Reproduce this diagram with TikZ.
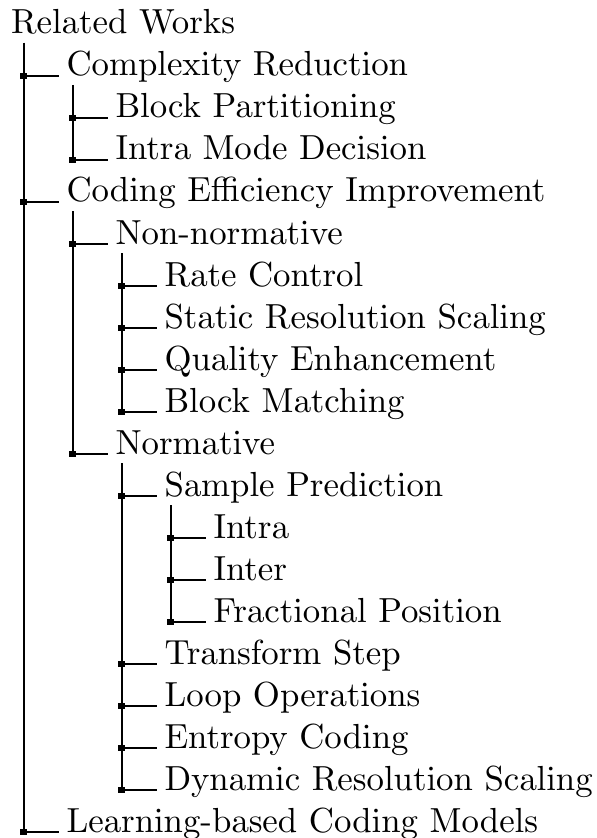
\documentclass[tikz,border=0pt]{standalone}
\font\treefont=cmr10 at 13.6pt
\begin{document}
\begin{tikzpicture}[x=0.390625pt,y=-0.390625pt,
  item/.style={anchor=base west,inner sep=0pt,font=\treefont},
  branch/.style={line width=0.75pt},
  knot/.style={fill=black,minimum size=2.7pt,inner sep=0pt,draw=none,rectangle}]
\useasboundingbox (0,0) rectangle (597,838);
% rows are 42px apart, the root baseline at y=34
\node[item] (r0)  at (10.5, 34)  {Related Works};
\node[item] (r1)  at (66, 76)    {Complexity Reduction};
\node[item] (r2)  at (115, 118)  {Block Partitioning};
\node[item] (r3)  at (115, 160)  {Intra Mode Decision};
\node[item] (r4)  at (66, 202)   {Coding Efficiency Improvement};
\node[item] (r5)  at (115, 244)  {Non-normative};
\node[item] (r6)  at (164, 286)  {Rate Control};
\node[item] (r7)  at (164, 328)  {Static Resolution Scaling};
\node[item] (r8)  at (164, 370)  {Quality Enhancement};
\node[item] (r9)  at (164, 412)  {Block Matching};
\node[item] (r10) at (115, 454)  {Normative};
\node[item] (r11) at (164, 496)  {Sample Prediction};
\node[item] (r12) at (213, 538)  {Intra};
\node[item] (r13) at (213, 580)  {Inter};
\node[item] (r14) at (213, 622)  {Fractional Position};
\node[item] (r15) at (164, 664)  {Transform Step};
\node[item] (r16) at (164, 706)  {Loop Operations};
\node[item] (r17) at (164, 748)  {Entropy Coding};
\node[item] (r18) at (164, 790)  {Dynamic Resolution Scaling};
\node[item] (r19) at (66, 832)   {Learning-based Coding Models};
% trunk tops, just below each parent's baseline
\coordinate (t0)  at (23.7, 42.7);
\coordinate (t1)  at (72.7, 85);
\coordinate (t4)  at (72.7, 211);
\coordinate (t5)  at (121.7, 253);
\coordinate (t10) at (121.7, 463);
\coordinate (t11) at (170.7, 505);
% parent -> list of children
\foreach \p/\kids in {0/{1,4,19},1/{2,3},4/{5,10},5/{6,7,8,9},10/{11,15,16,17,18},11/{12,13,14}}{
  \foreach \c in \kids {
    \coordinate (j\c) at (t\p |- r\c.base);
    \draw[branch] (j\c) -- ([xshift=-7*0.390625pt]r\c.base west);
    \node[knot] at (j\c) {};
  }
  \foreach \c in \kids {\xdef\lastkid{\c}}
  \draw[branch] (t\p) -- (j\lastkid);
}
\end{tikzpicture}
\end{document}
